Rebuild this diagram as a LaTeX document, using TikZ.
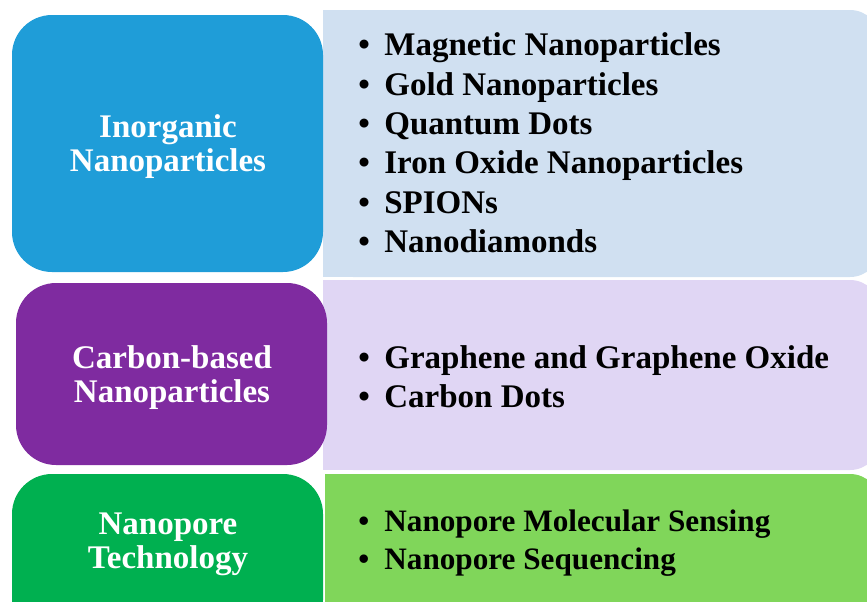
\documentclass[tikz,border=0pt]{standalone}
\usepackage{fontspec}
\setmainfont{Liberation Serif}

\definecolor{inorgblue}{RGB}{31,157,216}
\definecolor{inorglight}{RGB}{208,224,241}
\definecolor{carbonpurple}{RGB}{127,43,160}
\definecolor{carbonlight}{RGB}{224,214,244}
\definecolor{poregreen}{RGB}{0,176,80}
\definecolor{porelight}{RGB}{128,214,90}

\newcommand{\itm}[1]{\makebox[13pt][l]{\textbullet}#1}

\begin{document}
\begin{tikzpicture}[x=0.5pt, y=-0.5pt,
    head/.style={text=white, align=center, inner sep=0pt,
      font=\fontsize{16.5}{17}\selectfont\bfseries},
    list/.style={anchor=west, align=left, inner sep=0pt,
      font=\fontsize{16.5}{19.7}\selectfont\bfseries}]
  \useasboundingbox (0,0) rectangle (867,601);
  \clip (0,0) rectangle (867,601);
  % right panels
  \fill[inorglight, rounded corners=15pt] (323,10) rectangle (880,277);
  \fill[inorglight] (323,10) rectangle (360,277);
  \fill[carbonlight, rounded corners=15pt] (323,280) rectangle (880,470);
  \fill[carbonlight] (323,280) rectangle (360,470);
  \fill[porelight, rounded corners=15pt] (325,474) rectangle (880,640);
  \fill[porelight] (325,474) rectangle (360,640);
  % left boxes
  \fill[inorgblue, rounded corners=20pt] (12,15) rectangle (323,272);
  \fill[carbonpurple, rounded corners=20pt] (16,283) rectangle (327,465);
  \fill[poregreen, rounded corners=20pt] (12,474) rectangle (323,640);
  % labels
  \node[head] (inorg) at (168,147) {Inorganic\\Nanoparticles};
  \node[head] (carbon) at (172,378) {Carbon-based\\Nanoparticles};
  \node[head] (pore) at (168,544) {Nanopore\\Technology};
  % lists
  \node[list] (inorglist) at (358,143) {\itm{Magnetic Nanoparticles}\\
    \itm{Gold Nanoparticles}\\ \itm{Quantum Dots}\\
    \itm{Iron Oxide Nanoparticles}\\ \itm{SPIONs}\\ \itm{Nanodiamonds}};
  \node[list] (carbonlist) at (358,377) {\itm{Graphene and Graphene Oxide}\\
    \itm{Carbon Dots}};
  \node[list, font=\fontsize{15.6}{19}\selectfont\bfseries] (porelist)
    at (358,543) {\itm{Nanopore Molecular Sensing}\\
    \itm{Nanopore Sequencing}};
\end{tikzpicture}
\end{document}
